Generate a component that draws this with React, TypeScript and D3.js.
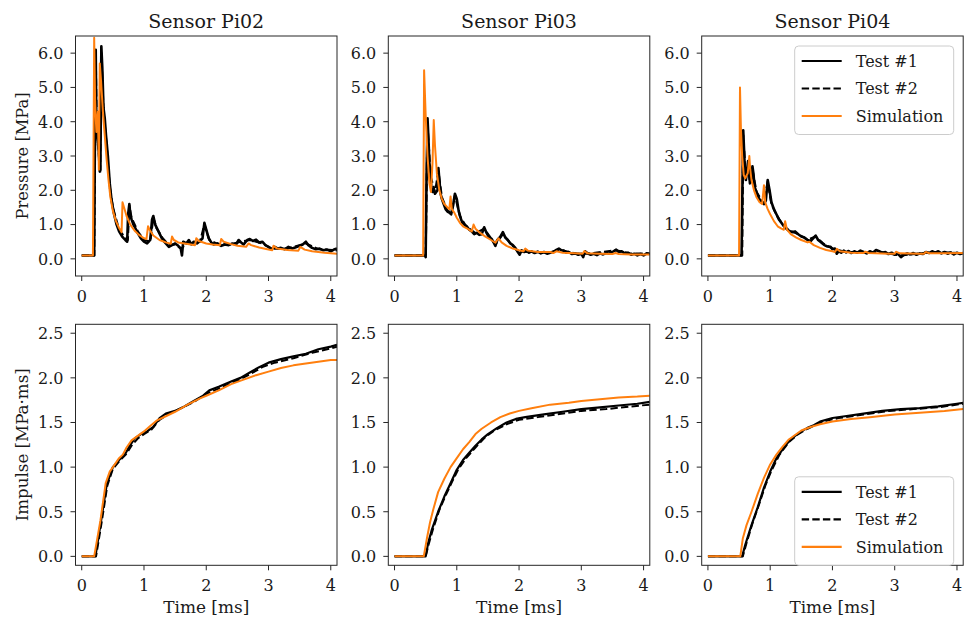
import React from 'react';
import * as d3 from 'd3';

type P = [number, number];

const sensors = ['Sensor Pi02', 'Sensor Pi03', 'Sensor Pi04'];
const seriesNames = ['Test #1', 'Test #2', 'Simulation'];
const xTicks = [0, 1, 2, 3, 4];
const pressureTicks = [0, 1, 2, 3, 4, 5, 6];
const impulseTicks = [0, 0.5, 1, 1.5, 2, 2.5];

// ---------- Pressure [MPa] ----------
const pTest1Pi02: P[] = [[0,0.1],[0.2,0.1],[0.215,4.5],[0.225,6.1],[0.235,4.0],[0.245,3.7],[0.26,3.4],[0.275,3.1],[0.29,2.55],[0.3,2.6],[0.315,6.2],[0.33,5.6],[0.35,4.4],[0.37,4.1],[0.39,3.6],[0.42,3.0],[0.45,2.2],[0.48,1.7],[0.52,1.3],[0.56,1.0],[0.6,0.8],[0.65,0.65],[0.7,0.55],[0.73,0.5],[0.745,1.3],[0.765,1.6],[0.78,1.3],[0.8,1.15],[0.83,1.0],[0.86,0.9],[0.9,0.75],[0.95,0.6],[1.0,0.5],[1.05,0.45],[1.1,0.55],[1.13,1.15],[1.15,1.25],[1.18,1.0],[1.22,0.85],[1.26,0.7],[1.3,0.55],[1.35,0.45],[1.4,0.35],[1.45,0.4],[1.5,0.45],[1.55,0.38],[1.59,0.3],[1.61,0.1],[1.63,0.5],[1.68,0.45],[1.72,0.55],[1.76,0.42],[1.8,0.5],[1.85,0.45],[1.9,0.52],[1.94,0.6],[1.97,1.05],[2.0,0.85],[2.04,0.6],[2.08,0.48],[2.12,0.42],[2.18,0.45],[2.24,0.38],[2.3,0.42],[2.36,0.4],[2.42,0.45],[2.48,0.42],[2.52,0.55],[2.56,0.48],[2.6,0.42],[2.66,0.55],[2.7,0.58],[2.75,0.52],[2.8,0.56],[2.85,0.48],[2.9,0.5],[2.95,0.4],[3.0,0.35],[3.05,0.28],[3.1,0.35],[3.15,0.3],[3.2,0.32],[3.26,0.28],[3.32,0.35],[3.38,0.3],[3.44,0.34],[3.5,0.38],[3.55,0.42],[3.6,0.5],[3.64,0.4],[3.7,0.32],[3.76,0.28],[3.82,0.3],[3.88,0.25],[3.94,0.27],[4.0,0.22],[4.05,0.27],[4.1,0.3]];
const pTest2Pi02: P[] = [[0,0.1],[0.2,0.1],[0.225,5.9],[0.24,3.9],[0.27,3.2],[0.295,2.5],[0.315,6.0],[0.35,4.3],[0.4,3.3],[0.45,2.1],[0.5,1.5],[0.6,0.85],[0.7,0.6],[0.74,0.55],[0.765,1.55],[0.8,1.2],[0.9,0.8],[1.0,0.55],[1.1,0.5],[1.15,1.2],[1.2,0.9],[1.3,0.6],[1.4,0.4],[1.5,0.42],[1.6,0.3],[1.7,0.48],[1.8,0.45],[1.9,0.5],[1.97,1.0],[2.05,0.55],[2.2,0.42],[2.4,0.42],[2.55,0.5],[2.7,0.55],[2.9,0.45],[3.05,0.3],[3.3,0.3],[3.6,0.45],[3.8,0.28],[4.1,0.25]];
const pSimPi02: P[] = [[0,0.1],[0.18,0.1],[0.2,6.45],[0.215,4.6],[0.235,3.7],[0.26,4.3],[0.275,2.6],[0.29,5.7],[0.31,5.2],[0.34,4.3],[0.37,3.6],[0.4,2.9],[0.43,2.3],[0.46,1.8],[0.5,1.4],[0.55,1.1],[0.6,0.9],[0.64,0.78],[0.655,1.65],[0.68,1.5],[0.72,1.25],[0.78,1.0],[0.85,0.82],[0.92,0.7],[1.0,0.6],[1.04,0.58],[1.065,0.95],[1.09,0.85],[1.15,0.68],[1.25,0.55],[1.35,0.48],[1.43,0.44],[1.45,0.65],[1.48,0.55],[1.55,0.48],[1.65,0.45],[1.75,0.42],[1.82,0.4],[1.84,0.6],[1.88,0.52],[2.0,0.45],[2.1,0.42],[2.22,0.4],[2.24,0.58],[2.28,0.5],[2.4,0.43],[2.5,0.38],[2.64,0.35],[2.68,0.45],[2.72,0.4],[2.85,0.33],[3.0,0.27],[3.06,0.25],[3.08,0.38],[3.14,0.3],[3.3,0.26],[3.48,0.24],[3.51,0.35],[3.58,0.27],[3.7,0.22],[3.9,0.18],[4.1,0.15]];

const pTest1Pi03: P[] = [[0,0.1],[0.49,0.1],[0.5,0.05],[0.515,2.5],[0.53,4.1],[0.545,3.5],[0.56,2.8],[0.575,2.6],[0.59,2.1],[0.61,1.95],[0.63,2.0],[0.65,1.9],[0.67,1.95],[0.69,2.0],[0.705,2.65],[0.72,2.3],[0.74,1.9],[0.76,1.75],[0.79,1.6],[0.82,1.45],[0.85,1.38],[0.88,1.35],[0.91,1.3],[0.94,1.55],[0.97,1.9],[1.0,1.75],[1.03,1.4],[1.06,1.2],[1.09,1.05],[1.12,1.0],[1.16,0.95],[1.2,0.85],[1.24,0.8],[1.28,0.72],[1.32,0.76],[1.36,0.7],[1.4,0.72],[1.44,0.92],[1.48,0.75],[1.52,0.62],[1.56,0.58],[1.6,0.45],[1.62,0.38],[1.65,0.55],[1.7,0.65],[1.74,0.78],[1.78,0.62],[1.82,0.55],[1.86,0.45],[1.9,0.4],[1.94,0.32],[1.98,0.2],[2.01,0.12],[2.04,0.25],[2.08,0.2],[2.12,0.24],[2.16,0.18],[2.2,0.22],[2.25,0.17],[2.3,0.21],[2.35,0.16],[2.4,0.2],[2.45,0.15],[2.5,0.18],[2.55,0.2],[2.6,0.26],[2.64,0.3],[2.68,0.25],[2.72,0.24],[2.76,0.18],[2.8,0.2],[2.85,0.14],[2.9,0.16],[2.95,0.12],[3.0,0.15],[3.03,0.05],[3.06,0.22],[3.1,0.16],[3.15,0.12],[3.2,0.15],[3.25,0.11],[3.3,0.16],[3.35,0.13],[3.4,0.17],[3.45,0.15],[3.5,0.2],[3.56,0.27],[3.6,0.2],[3.65,0.22],[3.7,0.16],[3.75,0.18],[3.8,0.12],[3.85,0.15],[3.9,0.1],[3.95,0.14],[4.0,0.1],[4.05,0.16],[4.1,0.14]];
const pTest2Pi03: P[] = [[0,0.1],[0.5,0.1],[0.53,3.9],[0.58,2.4],[0.65,1.95],[0.705,2.55],[0.76,1.8],[0.85,1.4],[0.91,1.35],[0.97,1.85],[1.05,1.25],[1.15,0.95],[1.3,0.75],[1.44,0.88],[1.55,0.6],[1.62,0.42],[1.74,0.72],[1.85,0.48],[1.98,0.22],[2.2,0.2],[2.5,0.19],[2.65,0.27],[2.9,0.16],[3.1,0.15],[3.56,0.25],[3.8,0.15],[4.1,0.15]];
const pSimPi03: P[] = [[0,0.1],[0.46,0.1],[0.475,5.5],[0.5,4.2],[0.53,3.0],[0.56,2.2],[0.585,1.95],[0.61,2.8],[0.63,4.05],[0.65,3.3],[0.68,2.5],[0.72,2.0],[0.76,1.75],[0.8,1.6],[0.85,1.5],[0.88,1.45],[0.9,1.82],[0.92,1.45],[0.96,1.35],[1.0,1.2],[1.05,1.05],[1.1,0.95],[1.17,0.88],[1.24,0.8],[1.27,1.0],[1.3,0.88],[1.38,0.75],[1.46,0.65],[1.55,0.55],[1.62,0.47],[1.67,0.6],[1.72,0.48],[1.8,0.38],[1.9,0.3],[2.0,0.25],[2.07,0.22],[2.1,0.3],[2.14,0.24],[2.3,0.2],[2.5,0.2],[2.55,0.17],[2.6,0.22],[2.7,0.18],[2.9,0.16],[3.02,0.15],[3.05,0.23],[3.1,0.16],[3.3,0.15],[3.5,0.14],[3.55,0.17],[3.6,0.14],[3.8,0.13],[4.1,0.13]];

const pTest1Pi04: P[] = [[0,0.1],[0.54,0.1],[0.555,2.2],[0.567,3.75],[0.58,3.2],[0.595,2.5],[0.61,2.3],[0.625,2.5],[0.645,2.85],[0.66,2.5],[0.675,2.2],[0.695,2.3],[0.715,2.7],[0.73,2.5],[0.75,2.1],[0.78,1.95],[0.81,1.8],[0.84,1.7],[0.87,1.65],[0.9,1.6],[0.93,1.7],[0.96,2.3],[0.99,2.0],[1.02,1.65],[1.06,1.45],[1.1,1.3],[1.14,1.15],[1.18,1.05],[1.22,0.95],[1.26,0.88],[1.3,0.82],[1.35,0.78],[1.4,0.8],[1.45,0.72],[1.5,0.65],[1.55,0.62],[1.6,0.55],[1.65,0.52],[1.7,0.62],[1.73,0.68],[1.77,0.55],[1.82,0.48],[1.87,0.4],[1.92,0.36],[1.97,0.35],[2.0,0.28],[2.04,0.3],[2.07,0.15],[2.1,0.22],[2.14,0.18],[2.18,0.24],[2.22,0.19],[2.26,0.23],[2.3,0.17],[2.35,0.22],[2.4,0.18],[2.45,0.24],[2.5,0.2],[2.55,0.16],[2.6,0.22],[2.65,0.18],[2.7,0.26],[2.75,0.22],[2.8,0.18],[2.85,0.2],[2.9,0.14],[2.95,0.18],[3.0,0.12],[3.05,0.15],[3.1,0.05],[3.15,0.12],[3.2,0.16],[3.25,0.13],[3.3,0.17],[3.35,0.12],[3.4,0.16],[3.45,0.14],[3.5,0.2],[3.55,0.17],[3.6,0.22],[3.65,0.18],[3.7,0.22],[3.75,0.16],[3.8,0.2],[3.85,0.15],[3.9,0.19],[3.95,0.13],[4.0,0.18],[4.05,0.14],[4.1,0.17]];
const pTest2Pi04: P[] = [[0,0.1],[0.55,0.1],[0.567,3.6],[0.61,2.35],[0.645,2.8],[0.675,2.25],[0.715,2.6],[0.78,1.95],[0.9,1.6],[0.96,2.25],[1.02,1.6],[1.1,1.28],[1.2,1.0],[1.3,0.83],[1.45,0.72],[1.6,0.56],[1.73,0.65],[1.85,0.45],[2.0,0.3],[2.2,0.2],[2.5,0.2],[2.8,0.19],[3.1,0.1],[3.4,0.16],[3.7,0.2],[4.1,0.16]];
const pSimPi04: P[] = [[0,0.1],[0.5,0.1],[0.515,5.0],[0.53,3.8],[0.55,3.0],[0.575,2.45],[0.6,2.35],[0.64,2.5],[0.665,3.0],[0.68,2.6],[0.7,2.3],[0.74,2.0],[0.78,1.8],[0.83,1.65],[0.87,1.6],[0.9,2.15],[0.92,1.65],[0.96,1.45],[1.0,1.3],[1.06,1.1],[1.12,0.95],[1.18,0.88],[1.22,0.85],[1.24,1.1],[1.27,0.85],[1.33,0.72],[1.42,0.62],[1.5,0.55],[1.6,0.48],[1.63,0.5],[1.7,0.4],[1.8,0.32],[1.9,0.26],[2.0,0.22],[2.04,0.2],[2.07,0.29],[2.12,0.22],[2.3,0.18],[2.5,0.17],[2.53,0.21],[2.58,0.17],[2.7,0.16],[2.9,0.15],[3.0,0.15],[3.02,0.21],[3.08,0.16],[3.4,0.15],[3.47,0.15],[3.5,0.2],[3.56,0.16],[3.8,0.16],[4.1,0.17]];

// ---------- Impulse [MPa·ms] ----------
const iTest1Pi02: P[] = [[0,0],[0.22,0],[0.3,0.35],[0.4,0.8],[0.5,1.0],[0.6,1.08],[0.7,1.15],[0.78,1.25],[0.85,1.32],[0.95,1.37],[1.05,1.4],[1.15,1.45],[1.25,1.55],[1.35,1.6],[1.5,1.63],[1.65,1.68],[1.8,1.74],[1.95,1.8],[2.05,1.86],[2.2,1.9],[2.4,1.96],[2.55,2.0],[2.7,2.06],[2.85,2.12],[3.0,2.17],[3.2,2.21],[3.4,2.24],[3.6,2.27],[3.8,2.32],[4.0,2.35],[4.1,2.37]];
const iTest2Pi02: P[] = [[0,0],[0.23,0],[0.32,0.38],[0.41,0.79],[0.5,0.98],[0.62,1.08],[0.72,1.15],[0.8,1.24],[0.9,1.32],[1.0,1.37],[1.12,1.42],[1.25,1.53],[1.4,1.6],[1.6,1.66],[1.8,1.73],[2.0,1.82],[2.2,1.88],[2.5,1.97],[2.7,2.04],[2.9,2.12],[3.1,2.17],[3.4,2.22],[3.7,2.28],[4.0,2.33],[4.1,2.35]];
const iSimPi02: P[] = [[0,0],[0.2,0],[0.3,0.4],[0.385,0.82],[0.45,0.95],[0.52,1.02],[0.6,1.1],[0.66,1.14],[0.72,1.22],[0.8,1.3],[0.9,1.35],[1.0,1.4],[1.1,1.46],[1.2,1.52],[1.35,1.57],[1.5,1.62],[1.7,1.7],[1.9,1.77],[2.0,1.8],[2.2,1.86],[2.4,1.93],[2.6,1.98],[2.8,2.03],[3.0,2.07],[3.2,2.11],[3.4,2.14],[3.6,2.16],[3.8,2.18],[4.0,2.2],[4.1,2.2]];

const iTest1Pi03: P[] = [[0,0],[0.5,0],[0.54,0.15],[0.6,0.3],[0.7,0.5],[0.8,0.67],[0.9,0.82],[1.0,0.97],[1.1,1.08],[1.2,1.16],[1.3,1.24],[1.4,1.31],[1.5,1.37],[1.65,1.44],[1.8,1.5],[1.95,1.54],[2.1,1.56],[2.4,1.59],[2.7,1.62],[3.0,1.65],[3.3,1.67],[3.6,1.69],[3.9,1.71],[4.1,1.73]];
const iTest2Pi03: P[] = [[0,0],[0.5,0],[0.55,0.14],[0.62,0.31],[0.72,0.52],[0.82,0.68],[0.92,0.83],[1.02,0.97],[1.15,1.1],[1.3,1.22],[1.45,1.33],[1.6,1.41],[1.8,1.48],[2.0,1.53],[2.3,1.56],[2.6,1.59],[3.0,1.63],[3.4,1.65],[3.8,1.68],[4.1,1.7]];
const iSimPi03: P[] = [[0,0],[0.47,0],[0.52,0.2],[0.57,0.38],[0.62,0.52],[0.7,0.72],[0.8,0.87],[0.9,1.0],[1.0,1.1],[1.1,1.2],[1.2,1.28],[1.3,1.37],[1.4,1.43],[1.55,1.5],[1.7,1.56],[1.85,1.6],[2.0,1.63],[2.2,1.66],[2.5,1.7],[2.8,1.72],[3.0,1.74],[3.3,1.76],[3.6,1.78],[3.9,1.79],[4.1,1.8]];

const iTest1Pi04: P[] = [[0,0],[0.55,0],[0.6,0.13],[0.7,0.35],[0.8,0.55],[0.9,0.77],[1.0,0.95],[1.1,1.1],[1.2,1.2],[1.3,1.29],[1.4,1.35],[1.5,1.4],[1.6,1.44],[1.7,1.47],[1.8,1.51],[1.9,1.53],[2.0,1.55],[2.2,1.57],[2.5,1.6],[2.8,1.63],[3.1,1.65],[3.4,1.66],[3.7,1.68],[4.0,1.71],[4.1,1.72]];
const iTest2Pi04: P[] = [[0,0],[0.56,0],[0.62,0.15],[0.72,0.38],[0.82,0.58],[0.92,0.79],[1.02,0.96],[1.15,1.14],[1.3,1.28],[1.45,1.37],[1.6,1.43],[1.75,1.48],[1.9,1.52],[2.1,1.55],[2.5,1.59],[2.9,1.63],[3.3,1.65],[3.7,1.67],[4.1,1.71]];
const iSimPi04: P[] = [[0,0],[0.52,0],[0.56,0.2],[0.62,0.35],[0.7,0.5],[0.8,0.7],[0.9,0.88],[1.0,1.03],[1.1,1.14],[1.2,1.23],[1.3,1.31],[1.4,1.36],[1.5,1.41],[1.65,1.45],[1.8,1.48],[2.0,1.51],[2.3,1.54],[2.6,1.56],[3.0,1.59],[3.4,1.61],[3.8,1.63],[4.1,1.65]];

const pressureSeries = [
  [pTest1Pi02, pTest2Pi02, pSimPi02],
  [pTest1Pi03, pTest2Pi03, pSimPi03],
  [pTest1Pi04, pTest2Pi04, pSimPi04],
];
const impulseSeries = [
  [iTest1Pi02, iTest2Pi02, iSimPi02],
  [iTest1Pi03, iTest2Pi03, iSimPi03],
  [iTest1Pi04, iTest2Pi04, iSimPi04],
];

const FONT = '"DejaVu Serif", serif';
const COLORS = ['#000000', '#000000', '#ff7f0e'];
const DASH = [null, '7.4,3.2', null];
const FRAME = '#262626';

const panelLefts = [75.5, 388.3, 701.7];
const panelW = 261.5;
const rows = [
  { top: 36, bottom: 276, domain: [-0.5, 6.5], ticks: pressureTicks, series: pressureSeries, label: 'Pressure [MPa]', labelLen: 127, legend: 'top', widths: [2.6, 2.2, 2] },
  { top: 324.3, bottom: 565.3, domain: [-0.1, 2.6], ticks: impulseTicks, series: impulseSeries, label: 'Impulse [MPa·ms]', labelLen: 153, legend: 'bottom', widths: [2.2, 2, 2] },
];

function Legend({ x1, y0, y1 }: { x1: number; y0: number | null; y1: number }) {
  const w = 159;
  const h = 88.5;
  const lx = x1 - 9.5 - w;
  const ly = y0 !== null ? y0 : y1 - h;
  const rowsY = [15, 42.5, 70];
  return (
    <g transform={`translate(${lx},${ly})`}>
      <rect x={0} y={0} width={w} height={h} rx={4} ry={4} fill="white" fillOpacity={0.8} stroke="#cccccc" strokeWidth={1} />
      {seriesNames.map((name, i) => (
        <g key={name}>
          <line x1={7} x2={47} y1={rowsY[i]} y2={rowsY[i]} stroke={COLORS[i]} strokeWidth={2.2} strokeDasharray={DASH[i] || undefined} />
          <text x={61} y={rowsY[i] + 5.8} fontFamily={FONT} fontSize={16} fill="#1a1a1a">{name}</text>
        </g>
      ))}
    </g>
  );
}

export default function App() {
  return (
    <svg width={968} height={620} style={{ position: 'absolute', left: 0, top: 0, background: 'white' }} xmlns="http://www.w3.org/2000/svg">
      <rect x={0} y={0} width={968} height={620} fill="white" />
      {rows.map((row, ri) =>
        panelLefts.map((left, ci) => {
          const x = d3.scaleLinear().domain([-0.1, 4.1]).range([left, left + panelW]);
          const y = d3.scaleLinear().domain(row.domain).range([row.bottom, row.top]);
          const line = d3.line<P>().x((d) => x(d[0])).y((d) => y(d[1]));
          const clipId = `clip-${ri}-${ci}`;
          const fmt = d3.format('.1f');
          return (
            <g key={clipId}>
              <defs>
                <clipPath id={clipId}>
                  <rect x={left} y={row.top} width={panelW} height={row.bottom - row.top} />
                </clipPath>
              </defs>
              <g clipPath={`url(#${clipId})`}>
                {row.series[ci].map((s, si) => (
                  <path key={si} d={line(s) || ''} fill="none" stroke={COLORS[si]} strokeWidth={row.widths[si]}
                    strokeDasharray={DASH[si] || undefined} strokeLinejoin="round" strokeLinecap="butt" />
                ))}
              </g>
              <rect x={left} y={row.top} width={panelW} height={row.bottom - row.top} fill="none" stroke={FRAME} strokeWidth={1} />
              {row.ticks.map((t) => (
                <g key={`y${t}`}>
                  <line x1={left - 5} x2={left} y1={y(t)} y2={y(t)} stroke={FRAME} strokeWidth={1} />
                  <text x={left - 12} y={y(t) + 5.8} textAnchor="end" fontFamily={FONT} fontSize={16} fill="#1a1a1a">{fmt(t)}</text>
                </g>
              ))}
              {xTicks.map((t) => (
                <g key={`x${t}`}>
                  <line x1={x(t)} x2={x(t)} y1={row.bottom} y2={row.bottom + 5} stroke={FRAME} strokeWidth={1} />
                  <text x={x(t)} y={row.bottom + 25.8} textAnchor="middle" fontFamily={FONT} fontSize={16} fill="#1a1a1a">{t}</text>
                </g>
              ))}
              {ri === 0 && (
                <text x={left + panelW / 2} y={27.5} textAnchor="middle" fontFamily={FONT} fontSize={19} fill="#1a1a1a">{sensors[ci]}</text>
              )}
              {ri === 1 && (
                <text x={left + panelW / 2} y={613} textAnchor="middle" fontFamily={FONT} fontSize={16} fill="#1a1a1a"
                  textLength={86} lengthAdjust="spacingAndGlyphs">Time [ms]</text>
              )}
              {ci === 0 && (
                <text transform={`translate(27.5,${(row.top + row.bottom) / 2}) rotate(-90)`} textAnchor="middle" fontFamily={FONT}
                  fontSize={16} fill="#1a1a1a" textLength={row.labelLen} lengthAdjust="spacingAndGlyphs">{row.label}</text>
              )}
              {ci === 2 && (
                <Legend x1={left + panelW} y0={row.legend === 'top' ? row.top + 10 : null} y1={row.bottom} />
              )}
            </g>
          );
        })
      )}
    </svg>
  );
}
